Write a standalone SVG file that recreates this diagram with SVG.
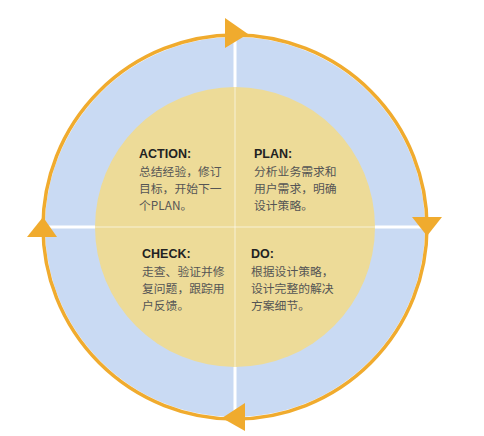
<svg xmlns="http://www.w3.org/2000/svg" width="484" height="436" viewBox="0 0 484 436">
<style>
.h{font-family:"Liberation Sans","Noto Sans CJK SC",sans-serif;font-size:12.5px;font-weight:bold;fill:#222}
.b{font-family:"Noto Sans CJK SC","Liberation Sans",sans-serif;font-size:11.8px;fill:#555}
.ring{fill:none;stroke:#f0ab2e;stroke-width:3.5}
.ah{fill:#f0ab2e}
.div{stroke:#fff;stroke-width:3}
</style>
<rect width="484" height="436" fill="#fff"/>
<g id="ring-bg">
<circle cx="235" cy="227" r="190" fill="#c9daf3"/>
<line class="div" x1="235" y1="36" x2="235" y2="418"/>
<line class="div" x1="44" y1="227" x2="426" y2="227"/>
</g>
<g id="center">
<circle cx="235" cy="227" r="140" fill="#eddb98"/>
<line x1="235" y1="87" x2="235" y2="367" stroke="#fff" stroke-opacity="0.3" stroke-width="2"/>
<line x1="95" y1="227" x2="375" y2="227" stroke="#fff" stroke-opacity="0.3" stroke-width="2"/>
</g>
<g id="connectors">
<circle class="ring" cx="235" cy="227" r="192"/>
<polygon class="ah" points="225,18 225,48 248,34"/>
<polygon class="ah" points="412,217 442,217 427,236"/>
<polygon class="ah" points="245,403 245,431 222,418"/>
<polygon class="ah" points="27,237 57,237 43,217"/>
</g>
<g id="action">
<text class="h" x="139" y="158">ACTION:</text>
<text class="b" x="139" y="176">总结经验，修订</text>
<text class="b" x="139" y="193">目标，开始下一</text>
<text class="b" x="139" y="210">个PLAN。</text>
</g>
<g id="plan">
<text class="h" x="254" y="158">PLAN:</text>
<text class="b" x="254" y="176">分析业务需求和</text>
<text class="b" x="254" y="193">用户需求，明确</text>
<text class="b" x="254" y="210">设计策略。</text>
</g>
<g id="check">
<text class="h" x="142" y="258">CHECK:</text>
<text class="b" x="142" y="276">走查、验证并修</text>
<text class="b" x="142" y="293">复问题，跟踪用</text>
<text class="b" x="142" y="310">户反馈。</text>
</g>
<g id="do">
<text class="h" x="251" y="258">DO:</text>
<text class="b" x="251" y="276">根据设计策略，</text>
<text class="b" x="251" y="293">设计完整的解决</text>
<text class="b" x="251" y="310">方案细节。</text>
</g>
</svg>
